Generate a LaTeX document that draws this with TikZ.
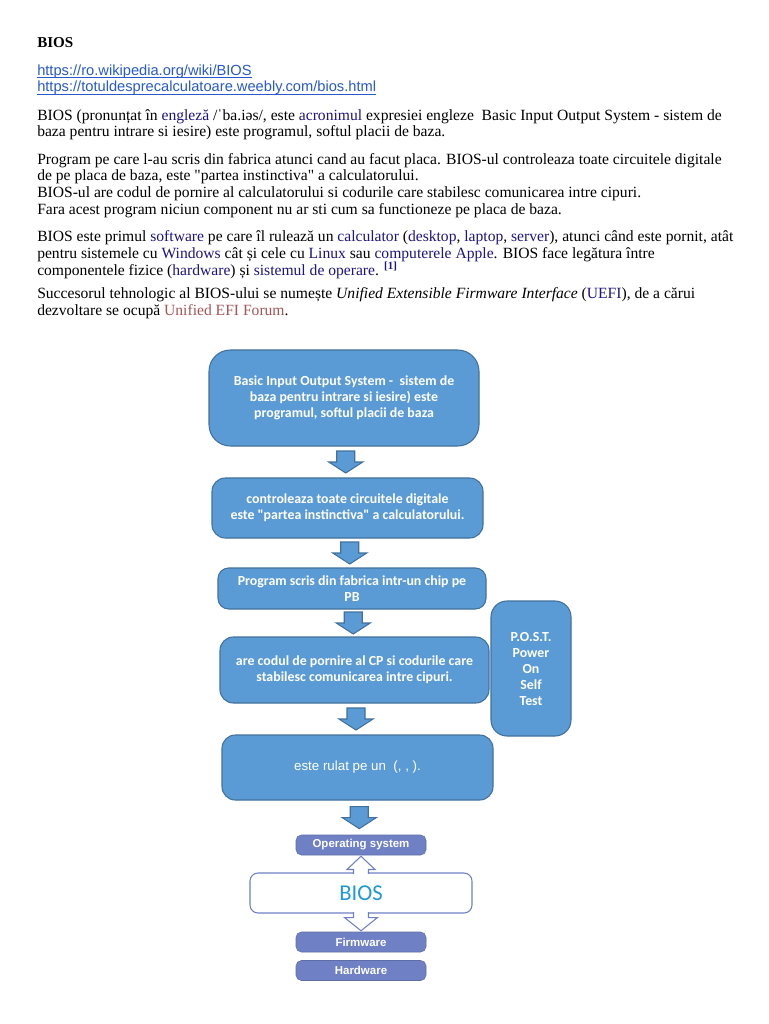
\documentclass[tikz,border=0pt]{standalone}
\usepackage{fontspec}
\setmainfont{Liberation Serif}[Ligatures=TeXOff]
\newfontfamily\armfont{Liberation Sans}
\newfontfamily\calfont{Carlito}
\usetikzlibrary{calc,positioning}
\definecolor{flowblue}{RGB}{91,155,213}
\definecolor{flowedge}{RGB}{65,113,156}
\definecolor{stackblue}{RGB}{112,128,196}
\definecolor{biosblue}{RGB}{30,155,215}
\definecolor{linkblue}{RGB}{40,90,205}
\definecolor{wikiblue}{RGB}{30,20,130}
\definecolor{efired}{RGB}{165,85,85}
\newcommand{\wl}[1]{\textcolor{wikiblue}{#1}}
\newcommand{\dq}{\symbol{34}}
\tikzset{
    bodyline/.style={
        anchor=base west,
        inner sep=0pt,
        font=\fontsize{11.7}{12}\selectfont
    },
    linkline/.style={
        anchor=base west,
        inner sep=0pt,
        text=linkblue,
        font=\armfont\fontsize{11}{12}\selectfont
    },
    % blue boxes of the flow
    flowbox/.style={
        draw=flowedge, fill=flowblue,
        line width=0.8pt,
        text=white, align=center, inner sep=2pt,
        font=\calfont\bfseries\fontsize{10.4}{12}\selectfont
    },
    % OS / firmware / hardware bars
    stackbox/.style={
        draw=stackblue!85!black, fill=stackblue,
        rounded corners=4pt,
        text=white, inner sep=0pt,
        minimum width=97.5pt, minimum height=15pt,
        font=\armfont\bfseries\fontsize{8.6}{9}\selectfont
    },
    hollowarrow/.style={
        draw=stackblue, fill=white,
        line width=0.8pt
    },
    pics/downarrow/.style={code={
        \filldraw[draw=flowedge, fill=flowblue, line width=0.8pt]
        (-9,-11) -- (9,-11) -- (9,0) -- (17,0) -- (0,11) -- (-17,0) -- (-9,0) -- cycle;
    }}
}
\begin{document}
\begin{tikzpicture}[x=0.75pt,y=-0.75pt]
	\useasboundingbox (0,0) rectangle (768,1024);
	\fill[white] (0,0) rectangle (768,1024);
	
	% text above
	\node[bodyline, font=\bfseries\fontsize{11.3}{12}\selectfont] (title) at (37,48) {BIOS};
	\node[linkline] (link1) at (37,75) {https://ro.wikipedia.org/wiki/BIOS};
	\node[linkline] (link2) at (37,92) {https://totuldesprecalculatoare.weebly.com/bios.html};
	\draw[linkblue, line width=0.6pt] ($(link1.base west)+(0,2.5)$) -- ($(link1.base east)+(0,2.5)$);
	\draw[linkblue, line width=0.6pt] ($(link2.base west)+(0,2.5)$) -- ($(link2.base east)+(0,2.5)$);
	
	\node[bodyline] (p1a) at (37,120) {BIOS (pronunțat în \wl{engleză} /ˈba.iəs/, este \wl{acronimul} expresiei engleze\ \ Basic Input Output System - sistem de};
	\node[bodyline] (p1b) at (37,137) {baza pentru intrare si iesire) este programul, softul placii de baza.};
	
	\node[bodyline] (p2a) at (37,164) {Program pe care l-au scris din fabrica atunci cand au facut placa. BIOS-ul controleaza toate circuitele digitale};
	\node[bodyline] (p2b) at (37,180) {de pe placa de baza, este \dq partea instinctiva\dq\ a calculatorului.};
	\node[bodyline] (p2c) at (37,197) {BIOS-ul are codul de pornire al calculatorului si codurile care stabilesc comunicarea intre cipuri.};
	\node[bodyline] (p2d) at (37,214) {Fara acest program niciun component nu ar sti cum sa functioneze pe placa de baza.};
	
	\node[bodyline] (p3a) at (37,241) {BIOS este primul \wl{software} pe care îl rulează un \wl{calculator} (\wl{desktop}, \wl{laptop}, \wl{server}), atunci când este pornit, atât};
	\node[bodyline] (p3b) at (37,258) {pentru sistemele cu \wl{Windows} cât și cele cu \wl{Linux} sau \wl{computerele Apple}. BIOS face legătura între};
	\node[bodyline] (p3c) at (37,275) {componentele fizice (\wl{hardware}) și \wl{sistemul de operare}. \textsuperscript{\bfseries\wl{[1]}}};
	
	\node[bodyline] (p4a) at (37,298) {Succesorul tehnologic al BIOS-ului se numește \textit{Unified Extensible Firmware Interface} (\wl{UEFI}), de a cărui};
	\node[bodyline] (p4b) at (37,315) {dezvoltare se ocupă \textcolor{efired}{Unified EFI Forum}.};
	
	% flow boxes
	\node[flowbox, rounded corners=16pt, minimum width=202.5pt, minimum height=72pt] (b1) at (344,398)
	{Basic Input Output System -\ \ sistem de\\ baza pentru intrare si iesire) este\\ programul, softul placii de baza};
	\node[flowbox, rounded corners=10pt, minimum width=203.25pt, minimum height=45pt] (b2) at (347.5,508)
	{controleaza toate circuitele digitale\\ este \dq partea instinctiva\dq\ a calculatorului.};
	\node[flowbox, rounded corners=8pt, minimum width=201pt, minimum height=30.75pt] (b3) at (352,588.5)
	{Program scris din fabrica intr-un chip pe\\ PB};
	\node[flowbox, rounded corners=10pt, minimum width=201.75pt, minimum height=49.5pt] (b4) at (354.5,670)
	{are codul de pornire al CP si codurile care\\ stabilesc comunicarea intre cipuri.};
	\node[flowbox, rounded corners=12pt, minimum width=60pt, minimum height=101.25pt] (post) at (531,668.5)
	{P.O.S.T.\\ Power\\ On\\ Self\\ Test};
	\node[flowbox, rounded corners=10pt, minimum width=203.25pt, minimum height=48.75pt,
	      font=\armfont\fontsize{10}{12}\selectfont] (b5) at (357.5,767.5)
	{este rulat pe un\ \ (, , ).};
	
	% block arrows
	\pic at ($(b1.south)!.5!(b2.north)$) {downarrow};
	\pic at ($(b2.south)!.5!(b3.north)$) {downarrow};
	\pic at ($(b3.south)!.5!(b4.north)$) {downarrow};
	\pic at ($(b4.south)!.5!(b5.north)$) {downarrow};
	
	% OS / BIOS / firmware stack
	\node[stackbox] (os) at (361,845) {Operating system};
	\node[draw=stackblue, fill=white, line width=0.8pt, rounded corners=6pt,
	      minimum width=166.5pt, minimum height=30pt, text=biosblue,
	      font=\calfont\fontsize{17}{20}\selectfont] (bios) at (361,893) {BIOS};
	\node[stackbox] (fw) at (361,942) {Firmware};
	\node[stackbox] (hw) at (361,970.5) {Hardware};
	
	\pic at ($(b5.south)!.5!(os.north)$) {downarrow};
	
	% hollow double arrow
	\filldraw[hollowarrow] ($(bios.north)+(-7.5,1.5)$) -- ++(0,-4.5) -- ++(-6.5,0)
	  -- ($(os.south)+(0,1)$) -- ($(bios.north)+(14,-3)$) -- ++(-6.5,0) -- ++(0,4.5);
	\filldraw[hollowarrow] ($(bios.south)+(-7.5,-1.5)$) -- ++(0,5.5) -- ++(-9,0)
	  -- ($(fw.north)+(0,-1)$) -- ($(bios.south)+(16.5,4)$) -- ++(-9,0) -- ++(0,-5.5);
\end{tikzpicture}
\end{document}
